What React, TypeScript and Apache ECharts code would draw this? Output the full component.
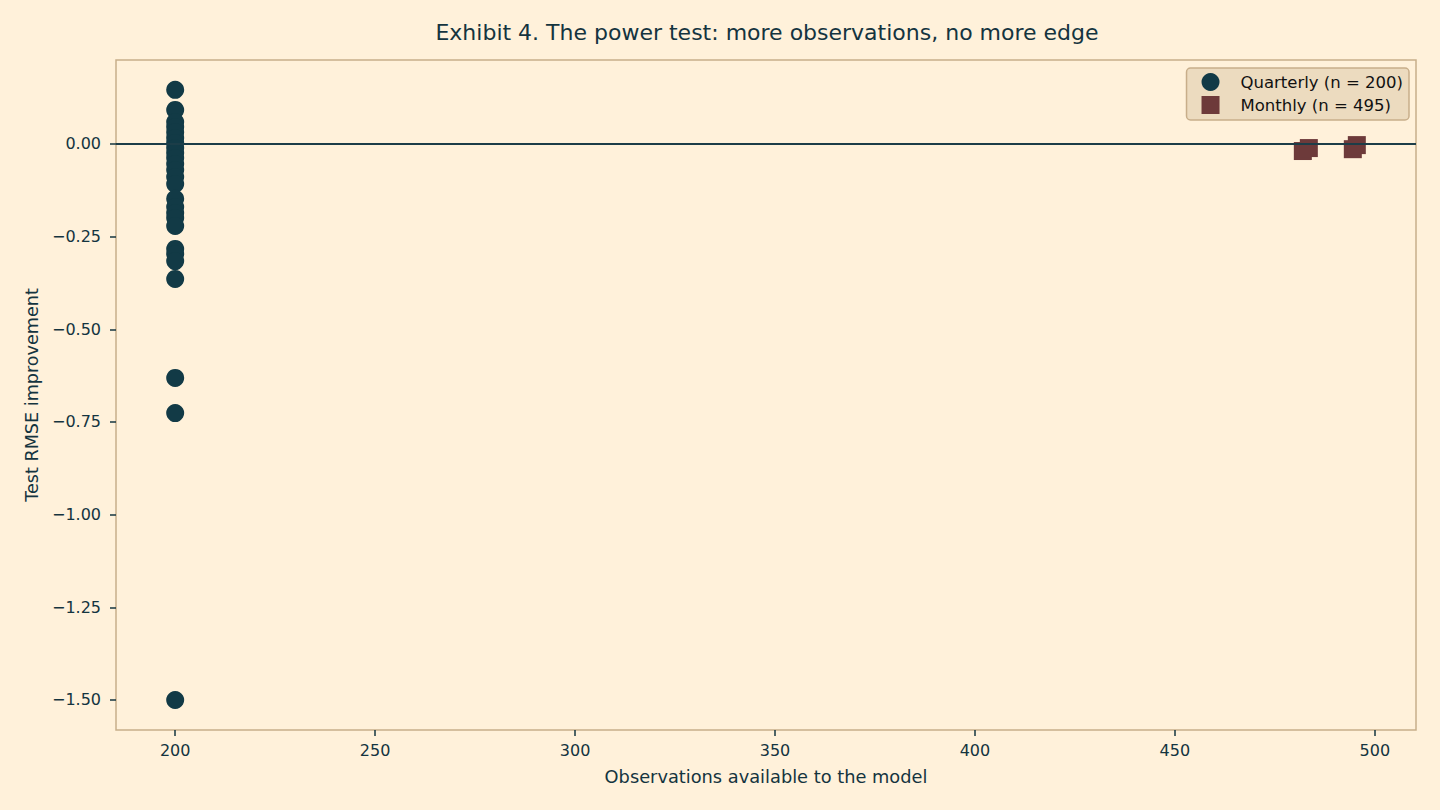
import { useEffect, useRef } from 'react'
import * as echarts from 'echarts'

const quarterlyX = [200]
const quarterlyY = [
  0.146, 0.092, 0.059, 0.046, 0.032, 0.016, 0.003, -0.011, -0.024, -0.038, -0.054, -0.07, -0.089,
  -0.108, -0.148, -0.17, -0.186, -0.2, -0.221, -0.283, -0.297, -0.316, -0.364, -0.631, -0.726, -1.5,
]
const monthlyX = [482, 483.5, 494.5, 495.5]
const monthlyY = [-0.019, -0.011, -0.014, -0.003]
const xTicks = [200, 250, 300, 350, 400, 450, 500]
const yTicks = [-1.5, -1.25, -1.0, -0.75, -0.5, -0.25, 0]

const BG = '#fff1da'
const INK = '#14343f'
const FRAME = '#c8ae8a'
const FONT = 'DejaVu Sans'

export default function App() {
  const chartRef = useRef<HTMLDivElement | null>(null)

  useEffect(() => {
    if (!chartRef.current) {
      return
    }

    const chart = echarts.init(chartRef.current, undefined, { renderer: 'svg' })
    const fmt = (v: number) => (v < 0 ? '\u2212' : '') + Math.abs(v).toFixed(2)

    chart.setOption({
      animation: false,
      backgroundColor: BG,
      textStyle: { fontFamily: FONT },
      title: {
        text: 'Exhibit 4. The power test: more observations, no more edge',
        left: 762,
        top: 16,
        textAlign: 'center',
        textStyle: { fontFamily: FONT, fontSize: 22, fontWeight: 'normal', color: INK },
      },
      legend: {
        data: ['Quarterly (n = 200)', 'Monthly (n = 495)'],
        orient: 'vertical',
        right: 31,
        top: 68,
        padding: [5, 6, 6, 15],
        itemWidth: 18,
        itemHeight: 18,
        itemGap: 5,
        backgroundColor: '#ecdbbf',
        borderColor: FRAME,
        borderWidth: 1.5,
        borderRadius: 4,
        textStyle: { fontFamily: FONT, fontSize: 16.5, color: '#111', padding: [0, 0, 0, 16] },
      },
      grid: {
        left: 116,
        top: 60,
        width: 1300,
        height: 670,
        show: true,
        borderColor: FRAME,
        borderWidth: 1.5,
        backgroundColor: 'transparent',
      },
      xAxis: {
        type: 'value',
        min: 185.2,
        max: 510.3,
        name: 'Observations available to the model',
        nameLocation: 'middle',
        nameGap: 37,
        nameTextStyle: { fontFamily: FONT, fontSize: 17.8, color: INK },
        axisLine: { show: false, onZero: false },
        splitLine: { show: false },
        axisTick: { show: true, length: 6, lineStyle: { color: INK, width: 1.5 }, customValues: xTicks },
        axisLabel: { fontFamily: FONT, fontSize: 16, color: INK, margin: 12, customValues: xTicks },
      },
      yAxis: {
        type: 'value',
        min: -1.581,
        max: 0.2266,
        name: 'Test RMSE improvement',
        nameLocation: 'middle',
        nameGap: 75,
        nameTextStyle: { fontFamily: FONT, fontSize: 17.6, color: INK },
        axisLine: { show: false, onZero: false },
        splitLine: { show: false },
        axisTick: { show: true, length: 6, lineStyle: { color: INK, width: 1.5 }, customValues: yTicks },
        axisLabel: {
          fontFamily: FONT,
          fontSize: 16,
          color: INK,
          margin: 15,
          customValues: yTicks,
          formatter: fmt,
        },
      },
      series: [
        {
          name: 'zero',
          type: 'scatter',
          data: [],
          z: 1,
          markLine: {
            silent: true,
            symbol: 'none',
            label: { show: false },
            lineStyle: { color: '#1c3d48', width: 2, type: 'solid' },
            data: [{ yAxis: 0 }],
          },
        },
        {
          name: 'Quarterly (n = 200)',
          type: 'scatter',
          z: 3,
          symbol: 'circle',
          symbolSize: 18,
          itemStyle: { color: '#123a46', opacity: 1 },
          data: quarterlyY.map((y) => [quarterlyX[0], y]),
        },
        {
          name: 'Monthly (n = 495)',
          type: 'scatter',
          z: 3,
          symbol: 'rect',
          symbolSize: 18,
          itemStyle: { color: '#6d3a3a', opacity: 1 },
          data: monthlyX.map((x, i) => [x, monthlyY[i]]),
        },
      ],
    })

    const resize = () => chart.resize()
    window.addEventListener('resize', resize)
    return () => {
      window.removeEventListener('resize', resize)
      chart.dispose()
    }
  }, [])

  return (
    <div
      ref={chartRef}
      style={{ position: 'absolute', left: 0, top: 0, width: 1440, height: 810, background: BG }}
    />
  )
}
